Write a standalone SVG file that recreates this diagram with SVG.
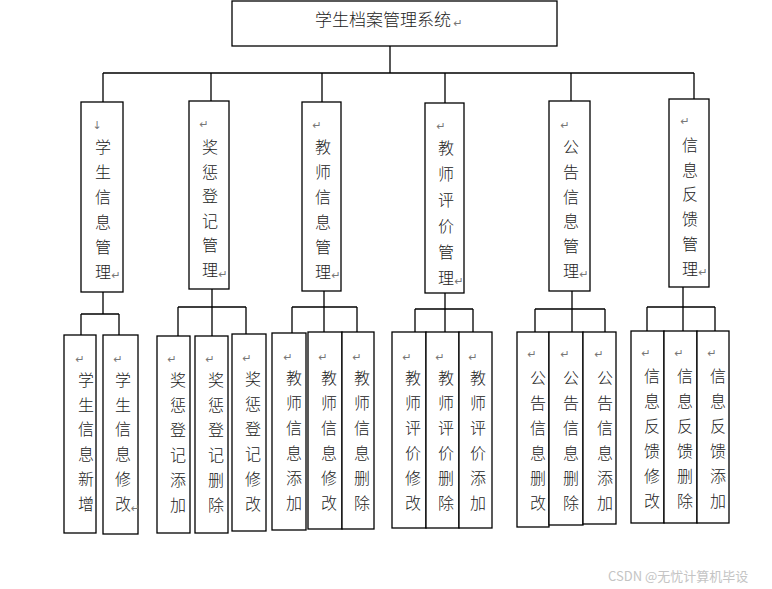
<svg xmlns="http://www.w3.org/2000/svg" width="772" height="589" viewBox="0 0 772 589">
<style>
.box{fill:#fff;stroke:#000;stroke-width:1.3}
.ln{fill:none;stroke:#000;stroke-width:1.3}
.t{font-family:"Noto Sans CJK SC","Noto Sans",sans-serif;font-size:16px;font-weight:300;fill:#222;text-anchor:middle}
.tt{font-family:"Noto Sans CJK SC","Noto Sans",sans-serif;font-size:17px;font-weight:300;fill:#222}
.rm{font-family:"DejaVu Sans",sans-serif;font-size:11px;fill:#777;text-anchor:middle}
.wm{font-family:"Noto Sans CJK SC","Noto Sans",sans-serif;font-size:13px;fill:#c4c4c4}
</style>
<rect width="772" height="589" fill="#fff"/>
<g id="connectors">
<path class="ln" d="M390 46V73M103 73H694M103 73V102M211 73V101M322 73V102M445 73V103M571 73V101M694 73V99"/>
<path class="ln" d="M103 292V314M81 314H119M81 314V335M119 314V335"/>
<path class="ln" d="M212 289V307M178 307H246M178 307V336M212 307V336M246 307V334"/>
<path class="ln" d="M324 291V307M292 307H357M292 307V333M324 307V332M357 307V332"/>
<path class="ln" d="M445 293V309M415 309H473M415 309V332M445 309V332M473 309V332"/>
<path class="ln" d="M572 291V309M535 309H605M535 309V332M572 309V332M605 309V332"/>
<path class="ln" d="M683 287V307M647 307H715M647 307V331M683 307V331M715 307V331"/>
</g>
<g id="root">
<rect class="box" x="232" y="1" width="325" height="45"/>
<text class="tt" x="315" y="26">学生档案管理系统</text>
<text class="rm" x="458" y="27">↵</text>
</g>
<g id="n1">
<rect class="box" x="81" y="102" width="42" height="190"/>
<text class="rm" x="97" y="129">↓</text>
<text class="t" x="103" y="153"><tspan x="103">学</tspan><tspan x="103" dy="25">生</tspan><tspan x="103" dy="25">信</tspan><tspan x="103" dy="25">息</tspan><tspan x="103" dy="25">管</tspan><tspan x="103" dy="25">理</tspan></text>
<text class="rm" x="116" y="279">↵</text>
</g>
<g id="n2">
<rect class="box" x="189" y="101" width="40" height="188"/>
<text class="rm" x="204" y="128">↵</text>
<text class="t" x="210" y="153"><tspan x="210">奖</tspan><tspan x="210" dy="24.6">惩</tspan><tspan x="210" dy="24.6">登</tspan><tspan x="210" dy="24.6">记</tspan><tspan x="210" dy="24.6">管</tspan><tspan x="210" dy="24.6">理</tspan></text>
<text class="rm" x="223" y="278">↵</text>
</g>
<g id="n3">
<rect class="box" x="302" y="102" width="39" height="189"/>
<text class="rm" x="317" y="129">↵</text>
<text class="t" x="323" y="153"><tspan x="323">教</tspan><tspan x="323" dy="25">师</tspan><tspan x="323" dy="25">信</tspan><tspan x="323" dy="25">息</tspan><tspan x="323" dy="25">管</tspan><tspan x="323" dy="25">理</tspan></text>
<text class="rm" x="336" y="279">↵</text>
</g>
<g id="n4">
<rect class="box" x="425" y="103" width="39" height="190"/>
<text class="rm" x="441" y="130">↵</text>
<text class="t" x="446" y="154"><tspan x="446">教</tspan><tspan x="446" dy="26">师</tspan><tspan x="446" dy="26">评</tspan><tspan x="446" dy="26">价</tspan><tspan x="446" dy="26">管</tspan><tspan x="446" dy="26">理</tspan></text>
<text class="rm" x="459" y="285">↵</text>
</g>
<g id="n5">
<rect class="box" x="549" y="101" width="41" height="190"/>
<text class="rm" x="565" y="129">↵</text>
<text class="t" x="571" y="153"><tspan x="571">公</tspan><tspan x="571" dy="24.8">告</tspan><tspan x="571" dy="24.8">信</tspan><tspan x="571" dy="24.8">息</tspan><tspan x="571" dy="24.8">管</tspan><tspan x="571" dy="24.8">理</tspan></text>
<text class="rm" x="584" y="278">↵</text>
</g>
<g id="n6">
<rect class="box" x="669" y="99" width="40" height="188"/>
<text class="rm" x="685" y="125">↵</text>
<text class="t" x="690" y="151"><tspan x="690">信</tspan><tspan x="690" dy="24.7">息</tspan><tspan x="690" dy="24.7">反</tspan><tspan x="690" dy="24.7">馈</tspan><tspan x="690" dy="24.7">管</tspan><tspan x="690" dy="24.7">理</tspan></text>
<text class="rm" x="703" y="276">↵</text>
</g>
<g id="l1a">
<rect class="box" x="64" y="335" width="32" height="198"/>
<text class="rm" x="80" y="363">↵</text>
<text class="t" x="86" y="386"><tspan x="86">学</tspan><tspan x="86" dy="24.7">生</tspan><tspan x="86" dy="24.7">信</tspan><tspan x="86" dy="24.7">息</tspan><tspan x="86" dy="24.7">新</tspan><tspan x="86" dy="24.7">增</tspan></text>
</g>
<g id="l1b">
<rect class="box" x="103" y="335" width="35" height="199"/>
<text class="rm" x="118" y="363">↵</text>
<text class="t" x="123" y="386"><tspan x="123">学</tspan><tspan x="123" dy="24.7">生</tspan><tspan x="123" dy="24.7">信</tspan><tspan x="123" dy="24.7">息</tspan><tspan x="123" dy="24.7">修</tspan><tspan x="123" dy="24.7">改</tspan></text>
<text class="rm" x="135.5" y="512">↵</text>
</g>
<g id="l2a">
<rect class="box" x="157" y="336" width="33" height="197"/>
<text class="rm" x="172" y="363">↵</text>
<text class="t" x="178" y="386"><tspan x="178">奖</tspan><tspan x="178" dy="25">惩</tspan><tspan x="178" dy="25">登</tspan><tspan x="178" dy="25">记</tspan><tspan x="178" dy="25">添</tspan><tspan x="178" dy="25">加</tspan></text>
</g>
<g id="l2b">
<rect class="box" x="195" y="336" width="33" height="197"/>
<text class="rm" x="210" y="363">↵</text>
<text class="t" x="216" y="386"><tspan x="216">奖</tspan><tspan x="216" dy="25">惩</tspan><tspan x="216" dy="25">登</tspan><tspan x="216" dy="25">记</tspan><tspan x="216" dy="25">删</tspan><tspan x="216" dy="25">除</tspan></text>
</g>
<g id="l2c">
<rect class="box" x="232" y="334" width="34" height="197"/>
<text class="rm" x="247" y="362">↵</text>
<text class="t" x="253" y="385"><tspan x="253">奖</tspan><tspan x="253" dy="25">惩</tspan><tspan x="253" dy="25">登</tspan><tspan x="253" dy="25">记</tspan><tspan x="253" dy="25">修</tspan><tspan x="253" dy="25">改</tspan></text>
</g>
<g id="l3a">
<rect class="box" x="272" y="333" width="34" height="197"/>
<text class="rm" x="288" y="361">↵</text>
<text class="t" x="294" y="384"><tspan x="294">教</tspan><tspan x="294" dy="25">师</tspan><tspan x="294" dy="25">信</tspan><tspan x="294" dy="25">息</tspan><tspan x="294" dy="25">添</tspan><tspan x="294" dy="25">加</tspan></text>
</g>
<g id="l3b">
<rect class="box" x="308" y="332" width="34" height="197"/>
<text class="rm" x="323" y="361">↵</text>
<text class="t" x="329" y="384"><tspan x="329">教</tspan><tspan x="329" dy="25">师</tspan><tspan x="329" dy="25">信</tspan><tspan x="329" dy="25">息</tspan><tspan x="329" dy="25">修</tspan><tspan x="329" dy="25">改</tspan></text>
</g>
<g id="l3c">
<rect class="box" x="342" y="332" width="32" height="197"/>
<text class="rm" x="357" y="361">↵</text>
<text class="t" x="362" y="384"><tspan x="362">教</tspan><tspan x="362" dy="25">师</tspan><tspan x="362" dy="25">信</tspan><tspan x="362" dy="25">息</tspan><tspan x="362" dy="25">删</tspan><tspan x="362" dy="25">除</tspan></text>
</g>
<g id="l4a">
<rect class="box" x="392" y="332" width="34" height="196"/>
<text class="rm" x="407" y="361">↵</text>
<text class="t" x="413" y="384"><tspan x="413">教</tspan><tspan x="413" dy="25">师</tspan><tspan x="413" dy="25">评</tspan><tspan x="413" dy="25">价</tspan><tspan x="413" dy="25">修</tspan><tspan x="413" dy="25">改</tspan></text>
</g>
<g id="l4b">
<rect class="box" x="426" y="332" width="33" height="196"/>
<text class="rm" x="440" y="361">↵</text>
<text class="t" x="446" y="384"><tspan x="446">教</tspan><tspan x="446" dy="25">师</tspan><tspan x="446" dy="25">评</tspan><tspan x="446" dy="25">价</tspan><tspan x="446" dy="25">删</tspan><tspan x="446" dy="25">除</tspan></text>
</g>
<g id="l4c">
<rect class="box" x="459" y="332" width="33" height="196"/>
<text class="rm" x="473" y="361">↵</text>
<text class="t" x="478" y="384"><tspan x="478">教</tspan><tspan x="478" dy="25">师</tspan><tspan x="478" dy="25">评</tspan><tspan x="478" dy="25">价</tspan><tspan x="478" dy="25">添</tspan><tspan x="478" dy="25">加</tspan></text>
</g>
<g id="l5a">
<rect class="box" x="517" y="332" width="32" height="195"/>
<text class="rm" x="532" y="358">↵</text>
<text class="t" x="538" y="384"><tspan x="538">公</tspan><tspan x="538" dy="24.9">告</tspan><tspan x="538" dy="24.9">信</tspan><tspan x="538" dy="24.9">息</tspan><tspan x="538" dy="24.9">删</tspan><tspan x="538" dy="24.9">改</tspan></text>
</g>
<g id="l5b">
<rect class="box" x="549" y="332" width="34" height="193"/>
<text class="rm" x="565" y="358">↵</text>
<text class="t" x="571" y="384"><tspan x="571">公</tspan><tspan x="571" dy="24.9">告</tspan><tspan x="571" dy="24.9">信</tspan><tspan x="571" dy="24.9">息</tspan><tspan x="571" dy="24.9">删</tspan><tspan x="571" dy="24.9">除</tspan></text>
</g>
<g id="l5c">
<rect class="box" x="583" y="332" width="33" height="192"/>
<text class="rm" x="599" y="358">↵</text>
<text class="t" x="605" y="384"><tspan x="605">公</tspan><tspan x="605" dy="24.9">告</tspan><tspan x="605" dy="24.9">信</tspan><tspan x="605" dy="24.9">息</tspan><tspan x="605" dy="24.9">添</tspan><tspan x="605" dy="24.9">加</tspan></text>
</g>
<g id="l6a">
<rect class="box" x="631" y="331" width="33" height="192"/>
<text class="rm" x="646" y="357">↵</text>
<text class="t" x="652" y="382"><tspan x="652">信</tspan><tspan x="652" dy="25">息</tspan><tspan x="652" dy="25">反</tspan><tspan x="652" dy="25">馈</tspan><tspan x="652" dy="25">修</tspan><tspan x="652" dy="25">改</tspan></text>
</g>
<g id="l6b">
<rect class="box" x="664" y="331" width="33" height="192"/>
<text class="rm" x="679" y="357">↵</text>
<text class="t" x="685" y="382"><tspan x="685">信</tspan><tspan x="685" dy="25">息</tspan><tspan x="685" dy="25">反</tspan><tspan x="685" dy="25">馈</tspan><tspan x="685" dy="25">删</tspan><tspan x="685" dy="25">除</tspan></text>
</g>
<g id="l6c">
<rect class="box" x="697" y="331" width="32" height="192"/>
<text class="rm" x="712" y="357">↵</text>
<text class="t" x="718" y="382"><tspan x="718">信</tspan><tspan x="718" dy="25">息</tspan><tspan x="718" dy="25">反</tspan><tspan x="718" dy="25">馈</tspan><tspan x="718" dy="25">添</tspan><tspan x="718" dy="25">加</tspan></text>
</g>
<text class="wm" x="608" y="581">CSDN @无忧计算机毕设</text>
</svg>
